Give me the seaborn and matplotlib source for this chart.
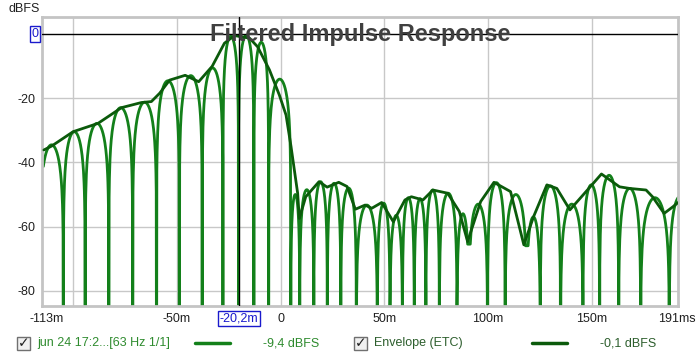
import numpy as np
import pandas as pd
import matplotlib
matplotlib.use("Agg")
import matplotlib.pyplot as plt
from matplotlib.patches import Rectangle
import seaborn as sns

# nulls of the filtered impulse response (ms)
null_t = [-104.7, -94.2, -82.8, -71.3, -59.8, -48.8, -37.8, -27.8, -20.3, -12.9,
          -5.8, 4.9, 9.2, 16.0, 22.5, 29.0, 36.5, 46.6, 52.7, 58.7, 64.4, 70.0,
          76.5, 85.0, 90.7, 99.7, 108.2, 118.5, 125.1, 134.9, 145.7, 153.7,
          162.9, 173.5, 187.3]
ir_start = -116.1
ir_end = 198.0
# peak level of each lobe between nulls (dBFS)
lobe_peak = [-34.5, -30.4, -27.8, -22.9, -21.2, -14.5, -12.9, -10.5, -0.6, -0.3,
             -2.5, -14.0, -50.0, -48.5, -46.0, -46.5, -48.0, -53.3, -52.7, -56.5,
             -51.0, -51.3, -48.6, -49.6, -56.0, -53.0, -46.3, -50.0, -57.0, -47.3,
             -53.0, -47.0, -44.0, -48.1, -51.0, -50.5]
# nulls that do not go all the way down
partial_t = [90.7, 118.5]
partial_db = [-65.5, -66.0]

# ETC envelope
env_t = [-114.1, -110.4, -100.0, -88.0, -76.7, -67.1, -62.3, -58.3, -53.5, -46.0,
         -39.5, -33.0, -27.1, -22.3, -15.0, -11.1, -5.4, -0.6, 2.6, 5.0, 6.6, 8.2,
         9.0, 12.1, 18.5, 22.4, 28.0, 32.0, 36.0, 40.7, 43.9, 48.7, 54.3, 59.9,
         63.0, 68.6, 73.4, 80.5, 86.1, 90.1, 96.4, 102.8, 110.8, 117.2, 121.9,
         128.3, 133.1, 139.4, 145.8, 154.6, 163.3, 168.1, 176.1, 179.2, 184.8,
         189.1, 191.5]
env_db = [-36.1, -34.9, -30.4, -27.8, -22.9, -21.3, -21.0, -18.4, -14.3, -12.8,
          -14.8, -10.0, -2.8, -0.4, -1.2, -3.9, -11.1, -19.0, -25.2, -35.0, -42.3,
          -49.6, -57.5, -50.7, -46.0, -47.7, -46.2, -47.5, -54.6, -53.3, -54.3,
          -52.5, -58.5, -51.7, -50.7, -51.7, -48.6, -49.6, -55.3, -64.7, -52.2,
          -46.2, -49.1, -65.7, -56.9, -47.0, -48.1, -54.8, -50.1, -43.6, -47.6,
          -48.1, -48.6, -50.7, -55.9, -53.8, -52.5]

tick_pos = [-113, -50, 0, 50, 100, 150, 191]
tick_lab = ["-113m", "-50m", "0", "50m", "100m", "150m", "191ms"]
grid_x = [-100, -50, 0, 50, 100, 150]
ytick_pos = [-20, -40, -60, -80]
cursor_t = -20.2

ir_col = "#13801a"
env_col = "#0b5a0b"

# build the lobes between the nulls
bounds = [ir_start] + null_t + [ir_end]
parts = []
for i, pk in enumerate(lobe_peak):
    a, b = bounds[i], bounds[i + 1]
    tt = np.linspace(a, b, 80)
    shape = np.abs(np.sin(np.pi * (tt - a) / (b - a)))
    db = pk + 20 * np.log10(np.maximum(shape, 1e-6))
    for tp, dp in zip(partial_t, partial_db):
        db = np.where(np.abs(tt - tp) < 2.5, np.maximum(db, dp), db)
    parts.append(pd.DataFrame({"t": tt, "db": db}))
ir = pd.concat(parts, ignore_index=True)
ir = ir[(ir.t >= -114.5)]
env = pd.DataFrame({"t": env_t, "db": env_db})

sns.set_style("white")
plt.rcParams["font.family"] = ["Liberation Sans", "DejaVu Sans"]
plt.rcParams["axes.unicode_minus"] = False

fig = plt.figure(figsize=(7, 3.59), dpi=100)
ax = fig.add_axes([0.06, 0.1476, 0.9086, 0.806])
ax.set_xlim(-115, 191.5)
ax.set_ylim(-84.8, 5.5)

for gx in grid_x:
    ax.axvline(gx, color="#c8c8c8", lw=1, zorder=0)
for gy in ytick_pos:
    ax.axhline(gy, color="#c8c8c8", lw=1, zorder=0)

sns.lineplot(data=ir, x="t", y="db", ax=ax, color=ir_col, lw=2.0,
             sort=False, estimator=None, zorder=2)
sns.lineplot(data=env, x="t", y="db", ax=ax, color=env_col, lw=2.0,
             sort=False, estimator=None, zorder=3)

ax.axvline(cursor_t, color="black", lw=1, zorder=4)
ax.axhline(0, color="black", lw=1, zorder=4)

ax.text(np.mean(ax.get_xlim()), 0, "Filtered Impulse Response", ha="center",
        va="center", fontsize=17, fontweight="bold", color="#404040", zorder=6)

ax.set_xticks(tick_pos)
ax.set_xticklabels(tick_lab, fontsize=9, color="#202020")
ax.set_yticks(ytick_pos)
ax.set_yticklabels([str(v) for v in ytick_pos], fontsize=9, color="#202020")
ax.tick_params(length=0, pad=5)
ax.set_xlabel("")
ax.set_ylabel("")
for s in ax.spines.values():
    s.set_color("#c4c4c4")
    s.set_linewidth(2)

# cursor value boxes
ax.annotate("0", xy=(0, 0), xycoords=("axes fraction", "data"),
            xytext=(-2.5, 0), textcoords="offset points", ha="right",
            va="center", fontsize=9, color="#1a1acc",
            bbox=dict(boxstyle="square,pad=0.15", fc="white", ec="#1a1acc",
                      lw=1))
ax.annotate("-20,2m", xy=(cursor_t, 0), xycoords=("data", "axes fraction"),
            xytext=(0, -5), textcoords="offset points", ha="center", va="top",
            fontsize=9, color="#1a1acc",
            bbox=dict(boxstyle="square,pad=0.12", fc="white", ec="#1a1acc",
                      lw=1))
fig.text(24 / 700, 1 - 9 / 359, "dBFS", ha="center", va="center", fontsize=9,
         color="#202020")

# legend row
ly = 1 - 343 / 359
for bx, txt, tcol, lx0, lcol, val in [
        (17, "jun 24 17:2...[63 Hz 1/1]", "#2e8b2e", 195, ir_col, "-9,4 dBFS"),
        (354, "Envelope (ETC)", "#2d5e2d", 532, env_col, "-0,1 dBFS")]:
    fig.patches.append(Rectangle((bx / 700, 1 - 350 / 359), 13 / 700, 13 / 359,
                                 transform=fig.transFigure, fc="#f0f0f0",
                                 ec="#707070", lw=1))
    fig.text((bx + 6.5) / 700, ly, "\u2713", ha="center", va="center",
             fontsize=10, color="#202020", family="DejaVu Sans",
             fontweight="bold")
    fig.text((bx + 20) / 700, ly, txt, ha="left", va="center", fontsize=9,
             color=tcol)
    fig.add_artist(plt.Line2D([lx0 / 700, (lx0 + 35) / 700], [ly, ly],
                              color=lcol, lw=2.5, transform=fig.transFigure))
    fig.text((lx0 + 68) / 700, ly, val, ha="left", va="center", fontsize=9,
             color=tcol)

fig.savefig("out.png", dpi=100)
